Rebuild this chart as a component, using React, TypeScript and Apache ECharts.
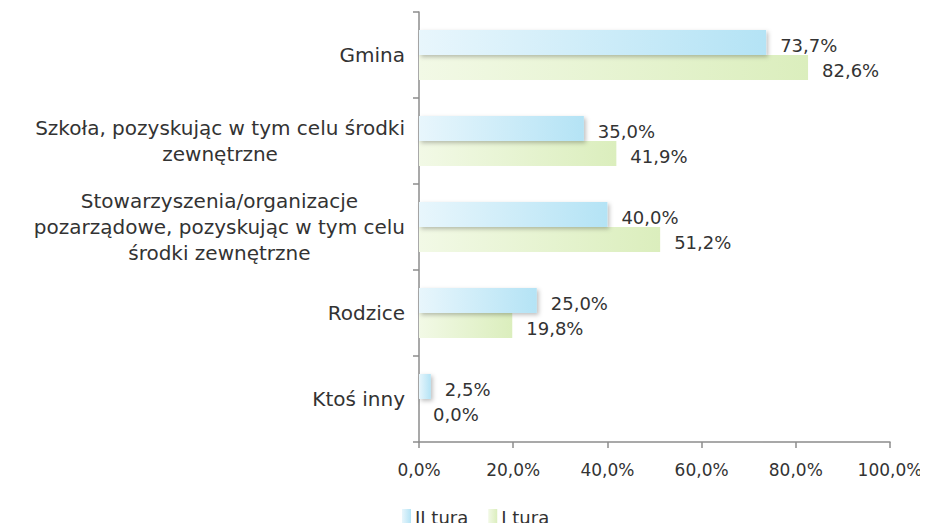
import React, { useEffect, useRef } from "react";
import * as echarts from "echarts";

const categories = [
  "Gmina",
  "Szkoła, pozyskując w tym celu środki\nzewnętrzne",
  "Stowarzyszenia/organizacje\npozarządowe, pozyskując w tym celu\nśrodki zewnętrzne",
  "Rodzice",
  "Ktoś inny",
];
const seriesNames = ["II tura", "I tura"];
const tura2 = [73.7, 35.0, 40.0, 25.0, 2.5];
const tura1 = [82.6, 41.9, 51.2, 19.8, 0.0];
const xTicks = [0, 20, 40, 60, 80, 100];

const FONT = "'DejaVu Sans', sans-serif";
const TXT = "#333333";
const fmt = (v: number) => v.toFixed(1).replace(".", ",") + "%";

const grad = (a: string, b: string) =>
  new echarts.graphic.LinearGradient(0, 0, 1, 0, [
    { offset: 0, color: a },
    { offset: 1, color: b },
  ]);

export default function App() {
  const ref = useRef<HTMLDivElement>(null);
  useEffect(() => {
    if (!ref.current) return;
    const chart = echarts.init(ref.current, undefined, { renderer: "svg" });
    const labelCommon = {
      show: true,
      position: "right" as const,
      distance: 14,
      offset: [0, 3],
      color: TXT,
      fontFamily: FONT,
      fontSize: 18,
      formatter: (p: any) => fmt(p.value),
    };
    chart.setOption({
      animation: false,
      backgroundColor: "#ffffff",
      grid: { left: 419, right: 38, top: 12, bottom: 89, containLabel: false },
      legend: {
        left: 402,
        top: 508,
        padding: 0,
        itemWidth: 9,
        itemHeight: 16,
        itemGap: 20,
        icon: "rect",
        textStyle: { color: TXT, fontFamily: FONT, fontSize: 18, padding: [0, 0, 0, -1] },
        data: seriesNames,
      },
      xAxis: {
        type: "value",
        min: xTicks[0],
        max: xTicks[xTicks.length - 1],
        interval: 20,
        splitLine: { show: false },
        axisLine: { show: true, lineStyle: { color: "#8c8c8c", width: 1.5 } },
        axisTick: { show: true, length: 6, lineStyle: { color: "#8c8c8c", width: 1.5 } },
        axisLabel: {
          color: TXT,
          fontFamily: FONT,
          fontSize: 17,
          margin: 19,
          formatter: (v: number) => fmt(v),
        },
      },
      yAxis: {
        type: "category",
        inverse: true,
        data: categories,
        axisLine: { show: true, lineStyle: { color: "#8c8c8c", width: 1.5 } },
        axisTick: { show: true, length: 6, lineStyle: { color: "#8c8c8c", width: 1.5 } },
        axisLabel: {
          margin: 14,
          color: TXT,
          fontFamily: FONT,
          fontSize: 20,
          lineHeight: 26,
          formatter: (v: string) =>
            v
              .split("\n")
              .map((l) => "{c|" + l + "}")
              .join("\n"),
          rich: {
            c: {
              align: "center",
              color: TXT,
              fontFamily: FONT,
              fontSize: 20,
              lineHeight: 26,
            },
          },
        },
      },
      series: [
        {
          name: seriesNames[0],
          type: "bar",
          data: tura2,
          barWidth: 25,
          barGap: "0%",
          itemStyle: {
            color: grad("#e8f6fc", "#b4e3f5"),
            shadowColor: "rgba(0,0,0,0.25)",
            shadowBlur: 4,
            shadowOffsetX: 2,
            shadowOffsetY: 2,
          },
          label: labelCommon,
          z: 3,
        },
        {
          name: seriesNames[1],
          type: "bar",
          data: tura1,
          barWidth: 25,
          barGap: "0%",
          itemStyle: {
            color: grad("#f2f9e6", "#dbeebd"),
          },
          label: labelCommon,
          z: 2,
        },
      ],
    });
    return () => chart.dispose();
  }, []);
  return <div ref={ref} style={{ width: 928, height: 531, margin: -8 }} />;
}
